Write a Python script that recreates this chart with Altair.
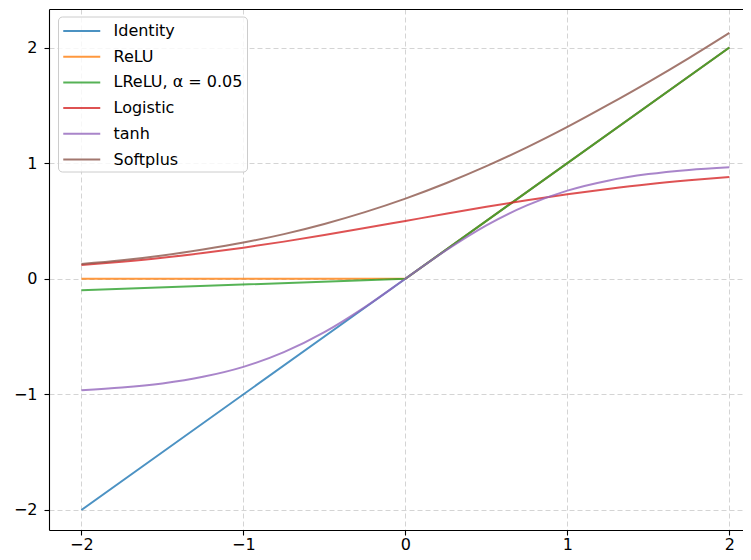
import altair as alt
import pandas as pd

series_order = ["Identity", "ReLU", "LReLU, α = 0.05", "Logistic", "tanh", "Softplus"]
series_colors = ["#1f77b4", "#ff7f0e", "#2ca02c", "#d62728", "#9467bd", "#8c564b"]

# piecewise-linear activations (read at the kinks)
kink_x = [-2.0, 0.0, 2.0]
identity_y = [-2.0, 0.0, 2.0]
relu_y = [0.0, 0.0, 2.0]
lrelu_y = [-0.10, 0.0, 2.0]

# smooth activations
smooth_x = [-2.0, -1.75, -1.5, -1.25, -1.0, -0.75, -0.5, -0.25, 0.0,
            0.25, 0.5, 0.75, 1.0, 1.25, 1.5, 1.75, 2.0]
logistic_y = [0.119, 0.148, 0.182, 0.223, 0.269, 0.321, 0.378, 0.438, 0.500,
              0.562, 0.622, 0.679, 0.731, 0.777, 0.818, 0.852, 0.881]
tanh_y = [-0.964, -0.941, -0.905, -0.848, -0.762, -0.635, -0.462, -0.245, 0.0,
          0.245, 0.462, 0.635, 0.762, 0.848, 0.905, 0.941, 0.964]
softplus_y = [0.127, 0.159, 0.201, 0.253, 0.313, 0.386, 0.474, 0.576, 0.693,
              0.826, 0.974, 1.136, 1.313, 1.503, 1.701, 1.909, 2.127]

tick_values = [-2, -1, 0, 1, 2]
x_domain = [-2.2, 2.084]
y_domain = [-2.173, 2.333]


def frame(name, xs, ys):
    return pd.DataFrame({"x": xs, "y": ys, "series": name,
                         "order": series_order.index(name)})


kinked = pd.concat([
    frame(series_order[0], kink_x, identity_y),
    frame(series_order[1], kink_x, relu_y),
    frame(series_order[2], kink_x, lrelu_y),
], ignore_index=True)

smooth = pd.concat([
    frame(series_order[3], smooth_x, logistic_y),
    frame(series_order[4], smooth_x, tanh_y),
    frame(series_order[5], smooth_x, softplus_y),
], ignore_index=True)

color = alt.Color(
    "series:N",
    scale=alt.Scale(domain=series_order, range=series_colors),
    sort=series_order,
    legend=alt.Legend(
        title=None,
        orient="none",
        legendX=9,
        legendY=7.5,
        symbolType="M-1,0H3",
        symbolSize=342,
        symbolStrokeWidth=2,
        symbolOpacity=0.8,
        labelOffset=30.5,
        rowPadding=6.7,
        padding=4,
        labelFont="DejaVu Sans",
        labelFontSize=16,
        labelColor="black",
        fillColor="rgba(255,255,255,0.8)",
        strokeColor="#cccccc",
        cornerRadius=4,
    ),
)

y_axis = alt.Axis(values=tick_values, format="d", title=None, labelPadding=7)

bottom_axis = alt.Axis(values=tick_values, format="d", title=None,
                       orient="bottom", labelPadding=1)
top_axis = alt.Axis(values=tick_values, title=None, orient="top",
                    labels=False, ticks=False, grid=False, domain=True)

lines_kinked = alt.Chart(kinked).mark_line(strokeWidth=2, opacity=0.8).encode(
    x=alt.X("x:Q", scale=alt.Scale(domain=x_domain, nice=False, zero=False),
            axis=bottom_axis),
    y=alt.Y("y:Q", scale=alt.Scale(domain=y_domain, nice=False, zero=False),
            axis=y_axis),
    color=color,
    detail="order:O",
    order="x:Q",
)

lines_smooth = alt.Chart(smooth).mark_line(strokeWidth=2, opacity=0.8,
                                           interpolate="monotone").encode(
    x=alt.X("x:Q", scale=alt.Scale(domain=x_domain, nice=False, zero=False),
            axis=top_axis),
    y=alt.Y("y:Q", scale=alt.Scale(domain=y_domain, nice=False, zero=False),
            axis=y_axis),
    color=color,
    detail="order:O",
    order="x:Q",
)

chart = alt.layer(lines_kinked, lines_smooth).resolve_axis(
    x="independent"
).properties(
    width=694,
    height=521,
    autosize=alt.AutoSizeParams(type="none"),
    padding={"left": 41, "top": 1, "right": 0, "bottom": 22},
).configure_view(
    stroke=None,
).configure_axis(
    domainColor="black",
    domainWidth=1.1,
    tickColor="black",
    tickSize=5,
    tickWidth=1.1,
    labelFont="DejaVu Sans",
    labelFontSize=16,
    labelColor="black",
    gridColor="#d4d4d4",
    gridDash=[5, 3],
    gridWidth=1,
)

chart.save("out.html", embed_options={"renderer": "svg", "actions": False})
